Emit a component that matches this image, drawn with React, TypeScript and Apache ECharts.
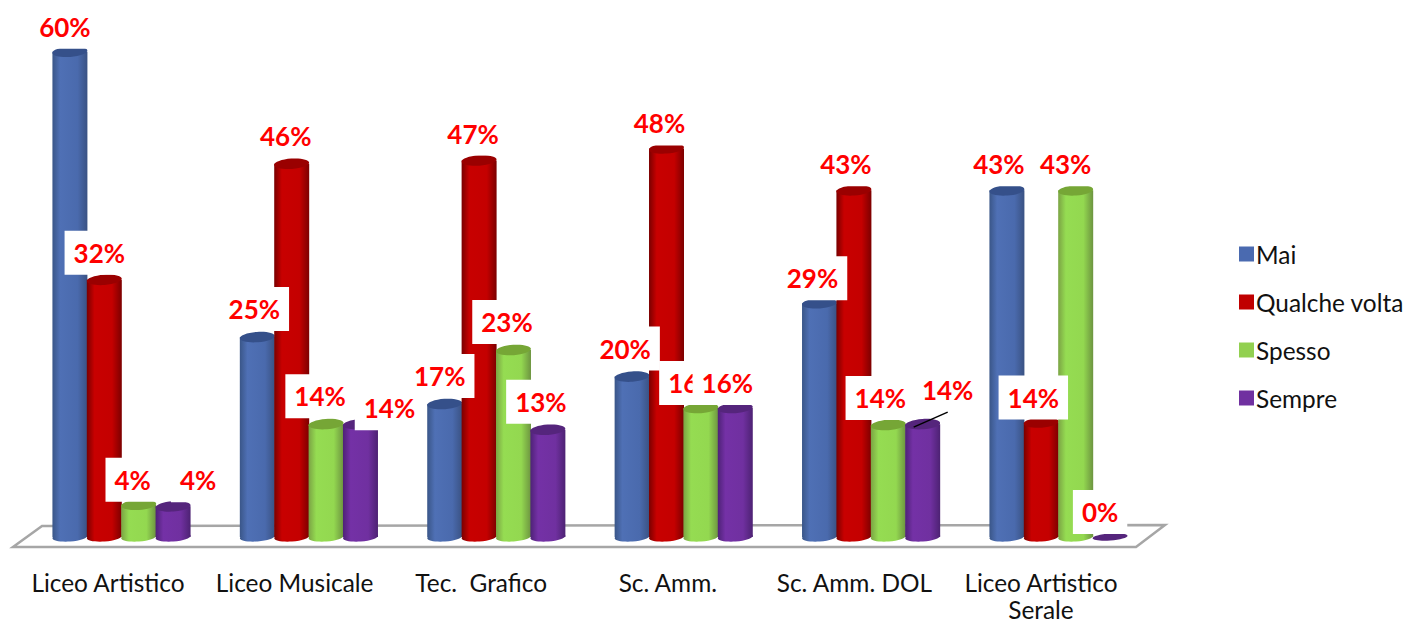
import React, { useEffect, useRef } from "react";
import * as echarts from "echarts";

const categories = ["Liceo Artistico", "Liceo Musicale", "Tec.  Grafico", "Sc. Amm.", "Sc. Amm. DOL", "Liceo Artistico\nSerale"];
const seriesNames = ["Mai", "Qualche volta", "Spesso", "Sempre"];
const mai = [60.2, 24.8, 16.5, 19.9, 29.0, 43.0];
const qualcheVolta = [31.9, 46.3, 46.7, 48.2, 43.0, 14.2];
const spesso = [4.0, 14.0, 23.2, 16.0, 13.9, 43.0];
const sempre = [3.8, 14.0, 13.3, 16.0, 14.0, 0];
const values = [mai, qualcheVolta, spesso, sempre];

const labelDx = [
  [-5, -3, -5, -7, -7, -8],
  [-5, -6, -6, -7, -8, -8],
  [-6, -6, -6.5, -7, -8, -10],
  [25, 29, -7, -8, 25, -10],
];
const labelDy = [
  [-25, -28, -28, -28, -25, -26],
  [-27, -28, -27, -25, -26, -25],
  [-25, -28, -28, -25, -27, -26],
  [-26, -16, -28, -25, -34, -25],
];

const legendColors = ["#4a6ab0", "#c00000", "#92d050", "#7030a0"];
const bodyStops = [
  ["#3a5688", "#4f70b5", "#4a6aad", "#3a5283"],
  ["#7a0000", "#c80000", "#c40000", "#7c0000"],
  ["#7ba444", "#95dc52", "#93d850", "#6d9440"],
  ["#4e2277", "#7431a6", "#7030a0", "#4d2273"],
];
const capColors = ["#35508a", "#9a0000", "#76a636", "#55257c"];

const FONT = "Lato, Carlito, sans-serif";

function App() {
  const ref = useRef<HTMLDivElement>(null);
  useEffect(() => {
    document.body.style.margin = "0";
    document.body.style.overflow = "hidden";
    const chart = echarts.init(ref.current!, null, { renderer: "svg" });

    const barSeries = seriesNames.map((name, s) => ({
      name,
      type: "custom",
      xAxisIndex: 0,
      yAxisIndex: 0,
      z: 3,
      silent: true,
      itemStyle: { color: legendColors[s] },
      data: categories.map((_, c) => [c, values[s][c]]),
      renderItem: (_p: any, api: any) => {
        const top = api.coord([api.value(0), api.value(1)]);
        const base = api.coord([api.value(0), 0]);
        const w = api.size([1, 0])[0] * 0.1835;
        const cx = top[0] + (s - 1.5) * w;
        const rx = w / 2 + 0.3;
        const fill = new echarts.graphic.LinearGradient(0, 0, 1, 0, [
          { offset: 0, color: bodyStops[s][0] },
          { offset: 0.22, color: bodyStops[s][1] },
          { offset: 0.72, color: bodyStops[s][2] },
          { offset: 1, color: bodyStops[s][3] },
        ]);
        const tilt = 0.07;
        const zero = api.value(1) === 0;
        const children: any[] = [];
        if (!zero) {
          children.push({
            type: "ellipse", x: cx, y: base[1], rotation: tilt,
            shape: { cx: 0, cy: 0, rx, ry: 4.5 }, style: { fill },
          });
          children.push({
            type: "rect",
            shape: { x: cx - rx, y: top[1], width: rx * 2, height: base[1] - top[1] },
            style: { fill },
          });
        }
        children.push({
          type: "ellipse", x: cx, y: top[1], rotation: tilt,
          shape: { cx: 0, cy: 0, rx, ry: zero ? 3.5 : 5.2 }, style: { fill: capColors[s] },
        });
        return { type: "group", children };
      },
    }));

    const labelData: number[][] = [];
    seriesNames.forEach((_, s) => categories.forEach((_, c) => labelData.push([c, values[s][c], s])));

    const labelSeries = {
      type: "custom",
      xAxisIndex: 0,
      yAxisIndex: 0,
      z: 10,
      silent: true,
      data: labelData,
      renderItem: (_p: any, api: any) => {
        const c = api.value(0);
        const s = api.value(2);
        const v = api.value(1);
        const top = api.coord([c, v]);
        const w = api.size([1, 0])[0] * 0.1835;
        const cx = top[0] + (s - 1.5) * w;
        const children: any[] = [{
          type: "text",
          x: cx + labelDx[s][c],
          y: top[1] + labelDy[s][c],
          style: {
            text: Math.round(v) + "%",
            fill: "#ff0000",
            font: `bold 26px ${FONT}`,
            align: "center",
            verticalAlign: "middle",
            backgroundColor: "#ffffff",
            padding: [8, 9],
            lineHeight: 28,
          },
        }];
        if (s === 3 && c === 4) {
          children.push({
            type: "line",
            shape: { x1: cx - 9, y1: top[1] + 3, x2: cx + 25, y2: top[1] - 12 },
            style: { stroke: "#000000", lineWidth: 1.5 },
          });
        }
        return { type: "group", children };
      },
    };

    chart.setOption({
      animation: false,
      backgroundColor: "#ffffff",
      legend: {
        data: seriesNames,
        orient: "vertical",
        left: 1234,
        top: 236,
        itemWidth: 15,
        itemHeight: 15,
        itemGap: 22,
        icon: "rect",
        selectedMode: false,
        textStyle: { fontFamily: FONT, fontSize: 24.4, color: "#111111", lineHeight: 26, padding: [0, 0, 0, -3] },
      },
      grid: [
        { left: 27.8, width: 1124.4, top: 13, height: 524, outerBoundsMode: "none" },
        { left: 14.7, width: 1119.6, top: 13, height: 534, outerBoundsMode: "none" },
      ],
      xAxis: [
        { type: "category", gridIndex: 0, data: categories, show: false },
        {
          type: "category", gridIndex: 1, data: categories,
          axisLine: { show: false }, axisTick: { show: false },
          axisLabel: { fontFamily: FONT, fontSize: 24.4, color: "#111111", margin: 22, lineHeight: 27, interval: 0 },
        },
      ],
      yAxis: [
        { type: "value", gridIndex: 0, min: 0, max: 65, show: false },
        { type: "value", gridIndex: 1, min: 0, max: 65, show: false },
      ],
      graphic: [{
        type: "polygon",
        z: 1,
        silent: true,
        shape: { points: [[42, 526], [13, 547], [1136, 547], [1165, 525]] },
        style: { fill: "#ffffff", stroke: "#a6a6a6", lineWidth: 2.5 },
      }],
      series: [
        ...barSeries,
        labelSeries,
        { type: "custom", xAxisIndex: 1, yAxisIndex: 1, data: [], renderItem: () => null, silent: true },
      ],
    });
    return () => chart.dispose();
  }, []);
  return <div ref={ref} style={{ width: 1408, height: 623 }} />;
}

export default App;
